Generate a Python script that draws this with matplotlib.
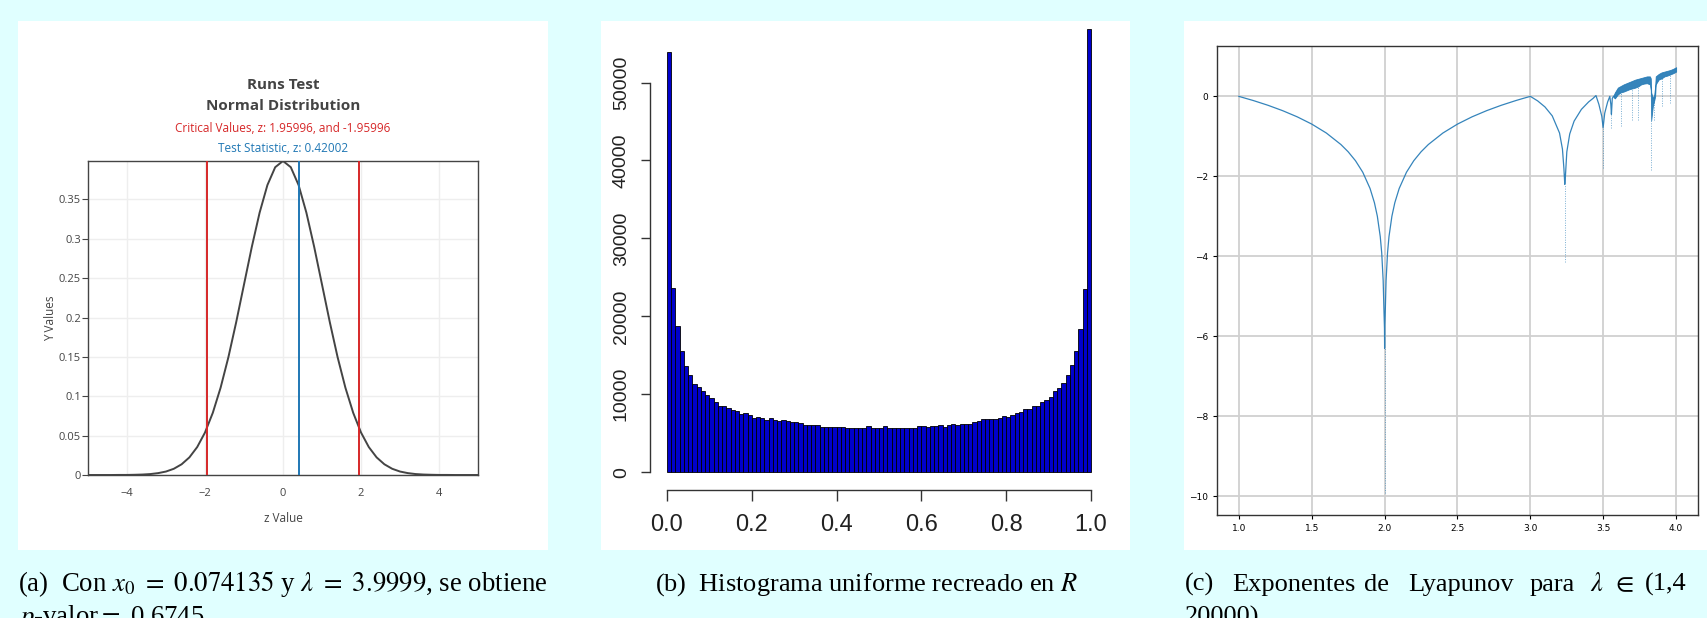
import numpy as np
import matplotlib
matplotlib.use('Agg')
import matplotlib.pyplot as plt
from matplotlib.patches import Rectangle

# ---- datos ----
# (a) densidad normal estandar (valores leidos cada 0.2)
z_vals = np.linspace(-5, 5, 51)
pdf_vals = [0.0000, 0.0000, 0.0000, 0.0000, 0.0001, 0.0001, 0.0003, 0.0006, 0.0012, 0.0024,
            0.0044, 0.0079, 0.0136, 0.0224, 0.0355, 0.0540, 0.0790, 0.1109, 0.1497, 0.1942,
            0.2420, 0.2897, 0.3332, 0.3683, 0.3910, 0.3989, 0.3910, 0.3683, 0.3332, 0.2897,
            0.2420, 0.1942, 0.1497, 0.1109, 0.0790, 0.0540, 0.0355, 0.0224, 0.0136, 0.0079,
            0.0044, 0.0024, 0.0012, 0.0006, 0.0003, 0.0001, 0.0001, 0.0000, 0.0000, 0.0000,
            0.0000]
crit_z = 1.95996
stat_z = 0.42002

# (b) histograma, 100 clases en [0, 1]
hist_counts = [53900, 23600, 18700, 15500, 13600, 12500, 11300, 11000, 10400, 9900,
               9550, 9000, 8500, 8500, 8200, 8000, 7850, 7500, 7650, 7300,
               7000, 7100, 6950, 6750, 6950, 6700, 6600, 6700, 6550, 6450,
               6450, 6300, 6050, 6050, 6050, 6050, 5800, 5800, 5800, 5800,
               5800, 5800, 5650, 5650, 5650, 5650, 5650, 5950, 5700, 5700,
               5700, 5900, 5650, 5650, 5650, 5650, 5650, 5650, 5650, 5900,
               5900, 5870, 5950, 5950, 6080, 5870, 6000, 6200, 6040, 6200,
               6200, 6200, 6430, 6600, 6770, 6770, 6770, 6770, 6940, 7240,
               7070, 7400, 7580, 7750, 8100, 8100, 8500, 8500, 9040, 9250,
               9700, 10400, 10800, 11400, 12500, 13800, 15500, 18400, 23500, 56900]
bin_edges = np.linspace(0, 1, 101)
x_ticks_b = [0.0, 0.2, 0.4, 0.6, 0.8, 1.0]
y_ticks_b = [0, 10000, 20000, 30000, 40000, 50000]

# (c) exponentes de Lyapunov
lam_per = [1.0, 1.1, 1.2, 1.3, 1.4, 1.5, 1.6, 1.7, 1.75, 1.8, 1.85, 1.9, 1.93, 1.95, 1.97,
           1.98, 1.99, 1.995, 1.999, 2.0, 2.001, 2.005, 2.01, 2.02, 2.03, 2.05, 2.07, 2.1,
           2.15, 2.2, 2.25, 2.3, 2.4, 2.5, 2.6, 2.7, 2.8, 2.9, 2.95, 3.0, 3.05, 3.1, 3.15,
           3.2, 3.22, 3.23, 3.236, 3.24, 3.25, 3.27, 3.3, 3.35, 3.4, 3.43, 3.45, 3.47, 3.49,
           3.499, 3.51, 3.53, 3.545, 3.552, 3.556, 3.562, 3.57]
lyap_per = [0.0, -0.105, -0.223, -0.357, -0.511, -0.693, -0.916, -1.204, -1.386, -1.609,
            -1.897, -2.303, -2.659, -2.996, -3.507, -3.912, -4.605, -5.298, -5.8, -6.3,
            -5.8, -5.298, -4.605, -3.912, -3.507, -2.996, -2.659, -2.303, -1.897, -1.609,
            -1.386, -1.204, -0.916, -0.693, -0.511, -0.357, -0.223, -0.105, -0.051, 0.0,
            -0.113, -0.264, -0.487, -0.916, -1.318, -1.804, -2.2, -2.02, -1.386, -0.939,
            -0.619, -0.325, -0.137, -0.05, 0.02, -0.2, -0.5, -0.78, -0.42, -0.14,
            0.0, -0.2, -0.45, -0.05, 0.0]
lam_chaos = [3.57, 3.58, 3.59, 3.60, 3.62, 3.64, 3.66, 3.68, 3.70, 3.72, 3.74, 3.76, 3.78,
             3.80, 3.82, 3.826, 3.829, 3.84, 3.85, 3.856, 3.86, 3.88, 3.90, 3.92, 3.94,
             3.96, 3.98, 4.0]
chaos_low = [-0.02, -0.05, 0.0, 0.05, 0.10, 0.12, 0.15, 0.18, 0.20, 0.22, 0.25, 0.30, 0.32,
             0.33, 0.30, 0.15, -0.60, -0.25, -0.10, 0.0, 0.30, 0.42, 0.45, 0.50, 0.52,
             0.55, 0.58, 0.62]
chaos_high = [0.02, 0.10, 0.16, 0.22, 0.26, 0.30, 0.33, 0.36, 0.39, 0.42, 0.44, 0.46, 0.48,
              0.50, 0.50, 0.45, 0.10, -0.05, 0.05, 0.25, 0.50, 0.56, 0.60, 0.62, 0.64,
              0.66, 0.69, 0.73]
spike_lam = [2.0, 3.236, 3.499, 3.556, 3.62, 3.70, 3.738, 3.829, 3.845, 3.905, 3.96]
spike_top = [-6.3, -2.2, -0.78, -0.4, 0.1, 0.2, 0.25, -0.6, 0.0, 0.45, 0.55]
spike_bottom = [-9.93, -4.15, -1.8, -0.8, -0.75, -0.6, -0.6, -1.85, -0.6, -0.25, -0.17]

W, H = 1708, 618
plt.rcParams['mathtext.fontset'] = 'stix'


def fx(x):
    return x / W


def fy(y):
    return 1 - y / H


def px_axes(fig, left, top, right, bottom):
    return fig.add_axes([left / W, 1 - bottom / H, (right - left) / W, (bottom - top) / H])


fig = plt.figure(figsize=(W / 100, H / 100), dpi=100, facecolor='#e0ffff')

# paneles blancos
for (l, t, r, b) in [(18, 21, 548, 550), (601, 21, 1130, 550), (1184, 21, 1708, 550)]:
    fig.patches.append(Rectangle((fx(l), fy(b)), (r - l) / W, (b - t) / H,
                                 transform=fig.transFigure, facecolor='white',
                                 edgecolor='none', zorder=-5))

# ---------------- (a) Runs test ----------------
grey = '#444444'
ax1 = px_axes(fig, 88, 161, 478, 475)
ax1.plot(z_vals, pdf_vals, color=grey, lw=1.4, zorder=3)
ax1.axvline(-crit_z, color='#d62728', lw=1.4, zorder=4)
ax1.axvline(crit_z, color='#d62728', lw=1.4, zorder=4)
ax1.axvline(stat_z, color='#1f77b4', lw=1.4, zorder=4)
ax1.set_xlim(-5, 5)
ax1.set_ylim(0, max(pdf_vals))
ax1.set_xticks([-4, -2, 0, 2, 4])
ax1.set_xticklabels(['\u22124', '\u22122', '0', '2', '4'])
y_ticks_a = [0, 0.05, 0.1, 0.15, 0.2, 0.25, 0.3, 0.35]
ax1.set_yticks(y_ticks_a)
ax1.set_yticklabels(['0', '0.05', '0.1', '0.15', '0.2', '0.25', '0.3', '0.35'])
ax1.grid(True, color='#eeeeee', lw=1)
ax1.set_axisbelow(True)
for s in ax1.spines.values():
    s.set_color(grey)
    s.set_linewidth(1)
ax1.tick_params(axis='y', length=4, color=grey, labelcolor=grey, labelsize=8, pad=1)
ax1.tick_params(axis='x', length=0, labelcolor=grey, labelsize=8, pad=9)
for lab in ax1.get_xticklabels() + ax1.get_yticklabels():
    lab.set_family('Open Sans')

fig.text(fx(283), fy(85), 'Runs Test', ha='center', va='center', fontsize=11,
         fontweight='bold', color=grey, family='Open Sans')
fig.text(fx(283), fy(106), 'Normal Distribution', ha='center', va='center', fontsize=11,
         fontweight='bold', color=grey, family='Open Sans')
fig.text(fx(283), fy(129), 'Critical Values, z: 1.95996, and -1.95996', ha='center',
         va='center', fontsize=8.5, color='#d62728', family='Open Sans')
fig.text(fx(283), fy(148), 'Test Statistic, z: 0.42002', ha='center', va='center',
         fontsize=8.5, color='#1f77b4', family='Open Sans')
fig.text(fx(283), fy(519), 'z Value', ha='center', va='center', fontsize=8.5,
         color=grey, family='Open Sans')
fig.text(fx(51), fy(318), 'Y Values', ha='center', va='center', rotation=90,
         fontsize=8.5, color=grey, family='Open Sans')

# ---------------- (b) histograma ----------------
ax2 = px_axes(fig, 650, 11, 1108, 490)
ax2.patch.set_alpha(0)
ax2.bar(bin_edges[:-1], hist_counts, width=0.01, align='edge', color='#0000cc',
        edgecolor='black', linewidth=0.6)
ax2.set_xlim(-0.04, 1.04)
ax2.set_ylim(-0.04 * max(hist_counts), 1.04 * max(hist_counts))
ax2.spines['top'].set_visible(False)
ax2.spines['right'].set_visible(False)
ax2.spines['left'].set_bounds(0, 50000)
ax2.spines['bottom'].set_bounds(0, 1)
for s in ['left', 'bottom']:
    ax2.spines[s].set_color('#333333')
    ax2.spines[s].set_linewidth(1)
ax2.set_xticks(x_ticks_b)
ax2.set_xticklabels(['0.0', '0.2', '0.4', '0.6', '0.8', '1.0'])
ax2.set_yticks(y_ticks_b)
ax2.set_yticklabels([str(v) for v in y_ticks_b])
ax2.tick_params(axis='x', length=8, width=1, color='#333333', labelsize=17, pad=9,
                labelcolor='#222222')
ax2.tick_params(axis='y', length=6.5, width=1, color='#333333', labelsize=14, pad=8,
                labelcolor='#222222')
for lab in ax2.get_xticklabels():
    lab.set_family('Liberation Sans')
for lab in ax2.get_yticklabels():
    lab.set_family('Liberation Sans')
    lab.set_rotation(90)
    lab.set_va('center')

# ---------------- (c) Lyapunov ----------------
c0 = '#1f77b4'
ax3 = px_axes(fig, 1217, 46, 1698, 515)
ax3.grid(True, color='#d0d0d0', lw=1.3)
ax3.set_axisbelow(True)
ax3.plot(lam_per, lyap_per, color=c0, lw=0.9, alpha=0.9)
ax3.fill_between(lam_chaos, chaos_low, chaos_high, color=c0, lw=0.6, alpha=0.9)
ax3.vlines(spike_lam, spike_bottom, spike_top, colors=c0, lw=0.7, alpha=0.6,
           linestyles=(0, (1, 1.5)))
ax3.set_xlim(0.85, 4.15)
ax3.set_ylim(-10.47, 1.26)
ax3.set_xticks([1.0, 1.5, 2.0, 2.5, 3.0, 3.5, 4.0])
ax3.set_yticks([-10, -8, -6, -4, -2, 0])
ax3.tick_params(labelsize=6.5, length=3, width=0.8)
for s in ax3.spines.values():
    s.set_color('#333333')
    s.set_linewidth(1)

# ---------------- leyendas ----------------
serif = 'Liberation Serif'
fig.text(fx(18), fy(591),
         r'(a)  Con $x_0\ =\ 0.074135$ y $\lambda\ =\ 3.9999$, se obtiene',
         fontsize=19.3, family=serif, va='baseline')
fig.text(fx(18), fy(624), r'$p$-valor$=$ 0.6745', fontsize=19.3, family=serif,
         va='baseline')
fig.text(fx(655), fy(591), r'(b)  Histograma uniforme recreado en $R$', fontsize=19,
         family=serif, va='baseline')
words_c = ['(c)', 'Exponentes', 'de', 'Lyapunov', 'para', r'$\lambda$', r'$\in$', '(1,4']
words_c_x = [1185, 1232, 1364, 1408, 1530, 1590, 1612, 1645]
for wd, xw in zip(words_c, words_c_x):
    fig.text(fx(xw), fy(591), wd, fontsize=19, family=serif, va='baseline')
fig.text(fx(1185), fy(624), '20000)', fontsize=19, family=serif, va='baseline')

fig.savefig('out.png', dpi=100, facecolor=fig.get_facecolor())
